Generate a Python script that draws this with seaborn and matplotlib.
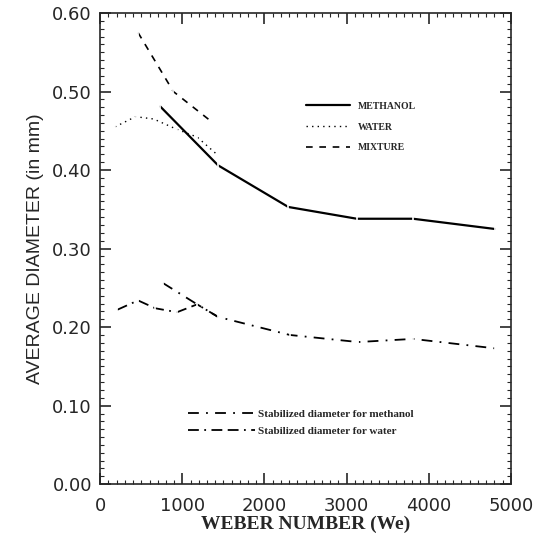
import matplotlib
matplotlib.use("Agg")
import matplotlib.pyplot as plt
import seaborn as sns
import pandas as pd
from matplotlib.ticker import MultipleLocator, FormatStrFormatter

# Values
methanol_we = [730, 1435, 2290, 3125, 3810, 4805]
methanol_d = [0.481, 0.406, 0.353, 0.338, 0.338, 0.325]

water_we = [180, 430, 650, 930, 1180, 1420]
water_d = [0.455, 0.468, 0.465, 0.452, 0.442, 0.420]

mixture_we = [460, 890, 1375]
mixture_d = [0.575, 0.500, 0.460]

stab_meth_we = [765, 1180, 1435, 2310, 3140, 3810, 4805]
stab_meth_d = [0.256, 0.229, 0.213, 0.190, 0.181, 0.185, 0.173]

stab_water_we = [205, 460, 670, 935, 1180, 1435]
stab_water_d = [0.222, 0.234, 0.224, 0.219, 0.229, 0.213]

sns.set_style("ticks")

fig = plt.figure(figsize=(5.48, 5.41), dpi=100)
ax = fig.add_axes([0.183, 0.105, 0.749, 0.871])

def draw(xs, ys, label, ls, lw):
    df = pd.DataFrame({"We": xs, "D": ys})
    sns.lineplot(data=df, x="We", y="D", ax=ax, color="black", linestyle=ls,
                 linewidth=lw, label=label, marker="|", markersize=5,
                 markeredgewidth=1.2)

draw(methanol_we, methanol_d, "METHANOL", "-", 1.6)
draw(water_we, water_d, "WATER", (0, (1, 3)), 1.0)
draw(mixture_we, mixture_d, "MIXTURE", (0, (4, 4)), 1.2)
draw(stab_meth_we, stab_meth_d, "Stabilized diameter for methanol",
     (0, (6, 4, 1, 4)), 1.3)
draw(stab_water_we, stab_water_d, "Stabilized diameter for water",
     (0, (6, 3, 1, 3, 6, 3)), 1.3)

ax.set_xlim(0, 5000)
ax.set_ylim(0, 0.60)
ax.xaxis.set_major_locator(MultipleLocator(1000))
ax.xaxis.set_minor_locator(MultipleLocator(100))
ax.yaxis.set_major_locator(MultipleLocator(0.10))
ax.yaxis.set_minor_locator(MultipleLocator(0.01))
ax.yaxis.set_major_formatter(FormatStrFormatter("%.2f"))
ax.tick_params(which="both", direction="in", top=True, right=True,
               labelsize=13)
ax.tick_params(axis="x", pad=9)
ax.tick_params(axis="y", pad=6)
ax.tick_params(which="major", length=8, width=1.2)
ax.tick_params(which="minor", length=3, width=0.8)
for lab in ax.get_xticklabels() + ax.get_yticklabels():
    lab.set_family("DejaVu Sans")
for s in ax.spines.values():
    s.set_linewidth(1.2)

ax.set_xlabel("WEBER NUMBER (We)", fontsize=14, family="Liberation Serif",
              fontweight="bold", labelpad=1)
ax.set_ylabel("AVERAGE DIAMETER (in mm)", fontsize=14, family="Liberation Sans",
              labelpad=6)

handles, labels = ax.get_legend_handles_labels()
leg1 = ax.legend(handles[:3], labels[:3], loc="upper left",
                 bbox_to_anchor=(0.48, 0.83), frameon=False, handlelength=4.5,
                 prop={"family": "Liberation Serif", "weight": "bold", "size": 7},
                 labelspacing=1.2)
ax.add_artist(leg1)
leg2 = ax.legend(handles[3:], labels[3:], loc="upper left",
                 bbox_to_anchor=(0.19, 0.18), frameon=False, handlelength=6,
                 prop={"family": "Liberation Serif", "weight": "bold", "size": 8},
                 labelspacing=0.6, handletextpad=0.3)
for lg in (leg1, leg2):
    for ln in lg.get_lines():
        ln.set_marker("")

fig.savefig("out.png", dpi=100)
